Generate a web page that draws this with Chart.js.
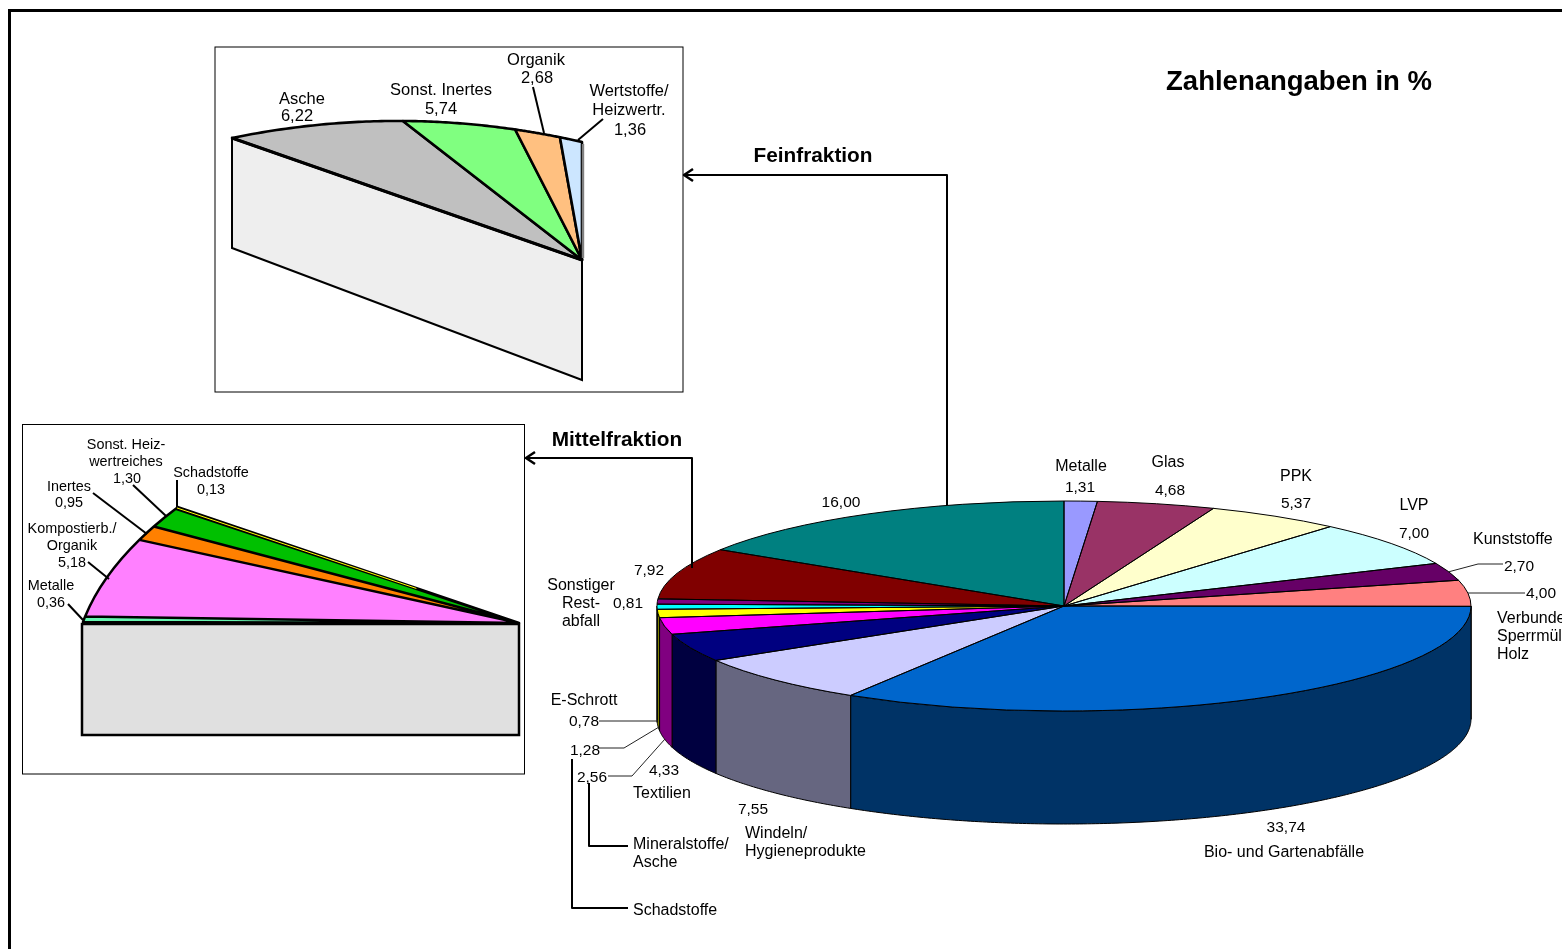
<!DOCTYPE html>
<html lang="de">
<head>
<meta charset="utf-8">
<title>Zahlenangaben in %</title>
<script src="https://cdn.jsdelivr.net/npm/chart.js@4"></script>
<style>
  html, body { margin: 0; padding: 0; background: #fff; overflow: hidden; }
  #page { position: relative; width: 1562px; height: 949px; overflow: hidden; }
  canvas { position: absolute; left: 0; top: 0; }
</style>
</head>
<body>
<div id="page">
  <canvas id="mainChart" width="1562" height="949"></canvas>
  <canvas id="mittelChart" width="1562" height="949"></canvas>
  <canvas id="feinChart" width="1562" height="949"></canvas>
</div>
<script>
// Data
const mainCategories = ['Metalle', 'Glas', 'PPK', 'LVP', 'Kunststoffe', 'Verbunde/\nSperrmüll/\nHolz',
  'Bio- und Gartenabfälle', 'Windeln/\nHygieneprodukte', 'Textilien', 'Mineralstoffe/\nAsche', 'Schadstoffe',
  'E-Schrott', 'Sonstiger\nRest-\nabfall', 'Mittelfraktion', 'Feinfraktion'];
const mainValues = [1.31, 4.68, 5.37, 7.00, 2.70, 4.00, 33.74, 7.55, 4.33, 2.56, 1.28, 0.78, 0.81, 7.92, 16.00];
const mainColors = ['#9999ff', '#993366', '#ffffcc', '#ccffff', '#660066', '#ff8080', '#0066cc', '#ccccff',
  '#000080', '#ff00ff', '#ffff00', '#00ffff', '#800080', '#800000', '#008080'];
const mainSideColors = ['#4c4c80', '#4c1933', '#808066', '#668080', '#330033', '#804040', '#003366', '#666680',
  '#000040', '#800080', '#808000', '#008080', '#400040', '#400000', '#004040'];

const feinCategories = ['Asche', 'Sonst. Inertes', 'Organik', 'Wertstoffe/\nHeizwertr.'];
const feinValues = [6.22, 5.74, 2.68, 1.36];
const feinColors = ['#c0c0c0', '#80ff80', '#ffc080', '#cce6ff'];

const mittelCategories = ['Metalle', 'Kompostierb./\nOrganik', 'Inertes', 'Sonst. Heiz-\nwertreiches', 'Schadstoffe'];
const mittelValues = [0.36, 5.18, 0.95, 1.30, 0.13];
const mittelColors = ['#66f5b0', '#ff80ff', '#ff8000', '#00c000', '#ffff00'];

// Label places: name x, name baseline, value x, value baseline, name alignment
const mainLabelPlaces = [
  [1081, 471, 1080, 492, 'center'], [1168, 467, 1170, 495, 'center'], [1296, 481, 1296, 508, 'center'],
  [1414, 510, 1414, 538, 'center'], [1473, 544, 1519, 571, 'left'], [1497, 623, 1541, 598, 'left'],
  [1284, 857, 1286, 832, 'center'], [745, 838, 753, 814, 'left'], [633, 798, 664, 775, 'left'],
  [633, 849, 592, 782, 'left'], [633, 915, 585, 755, 'left'], [584, 705, 584, 726, 'center'],
  [581, 590, 628, 608, 'center'], [617, 446, 649, 575, 'center'], [813, 162, 841, 507, 'center']
];
const feinLabelPlaces = [
  [302, 104, 297, 121, 'center'], [441, 95, 441, 114, 'center'], [536, 65, 537, 83, 'center'], [629, 96, 630, 135, 'center']
];
const mittelLabelPlaces = [
  [51, 590, 51, 607, 'center'], [72, 533, 72, 567, 'center'], [69, 491, 69, 507, 'center'],
  [126, 449, 127, 483, 'center'], [211, 477, 211, 494, 'center']
];

// Leader lines
const thinLeaders = [
  [[1448, 572], [1478, 564], [1503, 564]], [[1468, 593], [1525, 593]], [[599, 721], [658, 721]],
  [[599, 748], [624, 748], [659, 727]], [[608, 776], [632, 776], [665, 739]]
];
const thickLeaders = [
  [[589, 783], [589, 846], [628, 846]], [[572, 759], [572, 908], [628, 908]]
];
const feinLeaders = [[[533, 87], [544, 133]], [[603, 119], [578, 140]]];
const mittelLeaders = [
  [[177, 480], [177, 507]], [[133, 485], [166, 516]], [[93, 493], [147, 534]], [[88, 562], [109, 579]], [[68, 604], [83, 620]]
];

const FONT = '"Liberation Sans", Arial, sans-serif';

function formatValue(v) {
  return v.toFixed(2).replace('.', ',');
}

function polyline(ctx, points, width, color) {
  ctx.beginPath();
  points.forEach((p, i) => (i ? ctx.lineTo(p[0], p[1]) : ctx.moveTo(p[0], p[1])));
  ctx.lineWidth = width;
  ctx.strokeStyle = color;
  ctx.stroke();
}

// Draw names and values of one pie
function drawLabels(ctx, names, values, places, nameSize, valueSize, lineHeight) {
  ctx.fillStyle = '#000';
  ctx.textBaseline = 'alphabetic';
  names.forEach((name, i) => {
    const [nx, ny, vx, vy, align] = places[i];
    const bold = name === 'Mittelfraktion' || name === 'Feinfraktion';
    ctx.font = (bold ? 'bold 20.8px ' : nameSize + 'px ') + FONT;
    ctx.textAlign = align;
    name.split('\n').forEach((line, j) => ctx.fillText(line, nx, ny + j * lineHeight));
    ctx.font = valueSize + 'px ' + FONT;
    ctx.textAlign = 'center';
    ctx.fillText(formatValue(values[i]), vx, vy);
  });
}

// Pie drawn by Chart.js under an affine map: circle -> ellipse given by centre and two axes
function ellipsePlugin(cfg) {
  const rimPoint = (angle) => {
    const a = angle + Math.PI / 2;
    return [cfg.cx + cfg.bx * Math.cos(a) + cfg.ax * Math.sin(a), cfg.cy + cfg.by * Math.cos(a) + cfg.ay * Math.sin(a)];
  };
  return {
    id: 'ellipse-' + cfg.name,
    beforeDatasetsDraw(chart) {
      const ctx = chart.ctx;
      const arcs = chart.getDatasetMeta(0).data;
      if (cfg.walls) {
        // side walls of the front half
        arcs.forEach((el, i) => {
          const from = Math.max(el.startAngle, 0);
          const to = Math.min(el.endAngle, Math.PI);
          if (to <= from) return;
          const steps = Math.ceil((to - from) / 0.01);
          ctx.beginPath();
          for (let s = 0; s <= steps; s++) {
            const p = rimPoint(from + (to - from) * s / steps);
            s ? ctx.lineTo(p[0], p[1]) : ctx.moveTo(p[0], p[1]);
          }
          for (let s = steps; s >= 0; s--) {
            const p = rimPoint(from + (to - from) * s / steps);
            ctx.lineTo(p[0], p[1] + cfg.depth);
          }
          ctx.closePath();
          ctx.fillStyle = cfg.walls[i];
          ctx.fill();
          ctx.lineWidth = 1;
          ctx.strokeStyle = '#000';
          ctx.stroke();
        });
      }
      if (cfg.face) {
        // cut face below the first radius
        const p = rimPoint(arcs[0].startAngle);
        ctx.beginPath();
        ctx.rect(p[0] - 1, cfg.cy + 1, cfg.cx - p[0] + 1, cfg.depth - 1);
        ctx.fillStyle = cfg.face;
        ctx.fill();
        ctx.lineWidth = 2.5;
        ctx.strokeStyle = '#000';
        ctx.stroke();
      }
      const el = arcs[0];
      const r = el.outerRadius;
      ctx.save();
      ctx.translate(cfg.cx, cfg.cy);
      ctx.transform(cfg.ax / r, cfg.ay / r, -cfg.bx / r, -cfg.by / r, 0, 0);
      ctx.translate(-el.x, -el.y);
    },
    afterDatasetsDraw(chart) {
      const ctx = chart.ctx;
      const arcs = chart.getDatasetMeta(0).data;
      ctx.beginPath();
      arcs.forEach(el => {
        ctx.moveTo(el.x, el.y);
        ctx.arc(el.x, el.y, el.outerRadius, el.startAngle, el.endAngle);
        ctx.closePath();
      });
      ctx.restore();
      ctx.lineWidth = cfg.lineWidth;
      ctx.lineJoin = 'round';
      ctx.strokeStyle = '#000';
      ctx.stroke();

      // a very thin slice would vanish under its outlines, so keep its colour visible
      if (cfg.sliver !== undefined) {
        const el = arcs[cfg.sliver];
        const mid = rimPoint((el.startAngle + el.endAngle) / 2);
        const inner = [cfg.cx + (mid[0] - cfg.cx) * 0.3, cfg.cy + (mid[1] - cfg.cy) * 0.3];
        polyline(ctx, [mid, inner], 1, el.options.backgroundColor);
      }
    }
  };
}

// Feinfraktion: perspective wedge, slice angles come from Chart.js, rim follows the perspective
const FEIN_APEX = [582, 260];
function feinRim(fromRight) {
  const t = 0.74 * fromRight + 0.26 * Math.pow(fromRight, 3);
  return [FEIN_APEX[0] - 350 * t, FEIN_APEX[1] - (118 + 4 * t + 76 * t * (1 - t))];
}

const feinPlugin = {
  id: 'feinWedge',
  beforeDatasetsDraw(chart) {
    const ctx = chart.ctx;
    const arcs = chart.getDatasetMeta(0).data;
    const start = arcs[0].startAngle;
    const end = arcs[arcs.length - 1].endAngle;
    const rimAt = (angle) => feinRim((end - angle) / (end - start));

    const far = rimAt(start);
    ctx.beginPath();
    ctx.moveTo(far[0], far[1]);
    ctx.lineTo(FEIN_APEX[0], FEIN_APEX[1]);
    ctx.lineTo(FEIN_APEX[0], FEIN_APEX[1] + 120);
    ctx.lineTo(far[0], far[1] + 110);
    ctx.closePath();
    ctx.fillStyle = '#eeeeee';
    ctx.fill();
    ctx.lineWidth = 2;
    ctx.strokeStyle = '#000';
    ctx.stroke();

    arcs.forEach((el, i) => {
      const steps = 40;
      ctx.beginPath();
      ctx.moveTo(FEIN_APEX[0], FEIN_APEX[1]);
      for (let s = 0; s <= steps; s++) {
        const p = rimAt(el.startAngle + (el.endAngle - el.startAngle) * s / steps);
        ctx.lineTo(p[0], p[1]);
      }
      ctx.closePath();
      ctx.fillStyle = feinColors[i];
      ctx.fill();
      ctx.lineWidth = 2.6;
      ctx.lineJoin = 'round';
      ctx.strokeStyle = '#000';
      ctx.stroke();
    });

    const near = rimAt(end);
    polyline(ctx, [[near[0] + 1, near[1] + 2], [FEIN_APEX[0] + 1, FEIN_APEX[1] - 2]], 2.4, '#808080');
    polyline(ctx, [far, FEIN_APEX], 3, '#000');
    return false;
  },
  afterDraw(chart) {
    const ctx = chart.ctx;
    feinLeaders.forEach(l => polyline(ctx, l, 2, '#000'));
    drawLabels(ctx, feinCategories, feinValues, feinLabelPlaces, 16.5, 16.5, 19);
  }
};

const mittelLabels = {
  id: 'mittelLabels',
  afterDraw(chart) {
    const ctx = chart.ctx;
    mittelLeaders.forEach(l => polyline(ctx, l, 2, '#000'));
    drawLabels(ctx, mittelCategories, mittelValues, mittelLabelPlaces, 14.4, 14.4, 17);
  }
};

const mainDecor = {
  id: 'mainDecor',
  beforeDraw(chart) {
    const ctx = chart.ctx;
    polyline(ctx, [[9.5, 949], [9.5, 10.5], [1562, 10.5]], 3, '#000');
    ctx.strokeStyle = '#000';
    ctx.lineWidth = 1;
    ctx.strokeRect(215, 47, 468, 345);
    ctx.strokeRect(22.5, 424.5, 502, 349.5);
  },
  afterDraw(chart) {
    const ctx = chart.ctx;
    thinLeaders.forEach(l => polyline(ctx, l, 1, '#222'));
    thickLeaders.forEach(l => polyline(ctx, l, 2, '#000'));

    // arrows to the two detail boxes
    polyline(ctx, [[947, 505], [947, 175], [685, 175]], 2, '#000');
    polyline(ctx, [[693, 169], [684, 175], [693, 181]], 2.5, '#000');
    polyline(ctx, [[692, 568], [692, 458], [527, 458]], 2, '#000');
    polyline(ctx, [[535, 452], [526, 458], [535, 464]], 2.5, '#000');

    drawLabels(ctx, mainCategories, mainValues, mainLabelPlaces, 16, 15.5, 18);

    ctx.font = 'bold 27.5px ' + FONT;
    ctx.textAlign = 'center';
    ctx.fillStyle = '#000';
    ctx.fillText('Zahlenangaben in %', 1299, 90);
  }
};

function sum(list) {
  return list.reduce((a, b) => a + b, 0);
}

function pieChart(id, categories, values, colors, circumference, plugins) {
  return new Chart(document.getElementById(id), {
    type: 'pie',
    data: {
      labels: categories,
      datasets: [{ data: values, backgroundColor: colors, borderWidth: 0, clip: false }]
    },
    options: {
      responsive: false,
      animation: false,
      events: [],
      circumference: circumference,
      rotation: 0,
      plugins: { legend: { display: false }, tooltip: { enabled: false } }
    },
    plugins: plugins
  });
}

pieChart('mainChart', mainCategories, mainValues, mainColors, 360, [
  mainDecor,
  ellipsePlugin({ name: 'main', cx: 1064, cy: 606, ax: 407, ay: 0, bx: 0, by: -105, depth: 113, walls: mainSideColors, lineWidth: 1 })
]);

pieChart('mittelChart', mittelCategories, mittelValues, mittelColors, sum(mittelValues) * 3.6, [
  mittelLabels,
  ellipsePlugin({ name: 'mittel', cx: 519, cy: 623, ax: 88.5, ay: -241, bx: -436, by: -1, depth: 112, face: '#e0e0e0', lineWidth: 2.5, sliver: 4 })
]);

pieChart('feinChart', feinCategories, feinValues, feinColors, sum(feinValues) * 3.6, [feinPlugin]);
</script>
</body>
</html>
